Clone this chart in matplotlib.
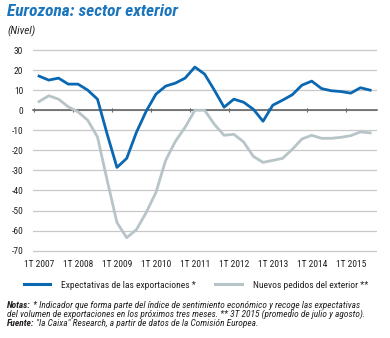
import numpy as np
import matplotlib.pyplot as plt
from matplotlib.lines import Line2D

# quarterly series, 1T 2007 .. 3T 2015
quarters = np.arange(35)
year_labels = ['1T 2007', '1T 2008', '1T 2009', '1T 2010', '1T 2011',
               '1T 2012', '1T 2013', '1T 2014', '1T 2015']
expectativas = [17, 15, 16, 13, 13, 10, 5.5, -12, -28.5, -24,
                -11, -0.5, 8, 12, 13.5, 16, 21.5, 18, 10, 1.5,
                5.5, 4, 0.5, -5.5, 2.5, 5, 7.7, 12.5, 14.5, 10.8,
                9.7, 9.3, 8.5, 11.2, 10]
pedidos = [4.3, 7.2, 5.5, 1.7, -0.8, -5, -13.3, -35, -56, -63.5,
           -59.5, -51, -41, -25, -15.5, -8.5, 0, 0, -7, -12.5,
           -12, -15.8, -23, -26, -25, -24, -19.5, -14.3, -12.5, -14,
           -14, -13.5, -12.7, -10.8, -11.3]
y_ticks = list(range(-70, 31, 10))

blue = '#0a67b1'
grey = '#b7c4c8'
title_blue = '#1b75bc'
txt = '#231f20'
font = ['Roboto Condensed', 'Liberation Sans Narrow', 'Roboto', 'DejaVu Sans']

W, H = 390, 338
fig = plt.figure(figsize=(W / 100, H / 100), dpi=100)
ax = fig.add_axes([33 / W, 1 - 252.7 / H, 344 / W, 204.7 / H])

ax.plot(quarters, pedidos, color=grey, lw=2.0, zorder=3)
ax.plot(quarters, expectativas, color=blue, lw=2.0, zorder=4)

ax.set_ylim(-71, 31)
ax.set_xlim(-0.62, 34.7)
ax.set_yticks(y_ticks, labels=[str(v) for v in y_ticks])
ax.grid(axis='y', color='#c8c8c8', lw=0.9)
ax.set_axisbelow(True)
ax.tick_params(axis='y', length=0, pad=7, labelsize=6.8, labelcolor=txt)
for lab in ax.get_yticklabels():
    lab.set_family(font)

for s in ['left', 'right', 'top']:
    ax.spines[s].set_visible(False)
ax.spines['bottom'].set_position(('data', 0))
ax.spines['bottom'].set_color('#5a5a5a')
ax.spines['bottom'].set_linewidth(1.1)
ax.set_xticks(np.arange(0, 35, 4) - 0.5, labels=[])
ax.tick_params(axis='x', length=3, width=0.8, direction='inout', color='#5a5a5a')

sec = ax.secondary_xaxis('bottom')
sec.set_xticks(np.arange(0, 35, 4), labels=year_labels)
sec.tick_params(length=0, pad=5, labelsize=6.8, labelcolor=txt)
sec.spines['bottom'].set_visible(False)
for lab in sec.get_xticklabels():
    lab.set_family(font)

handles = [Line2D([], [], color=blue, lw=2.2), Line2D([], [], color=grey, lw=2.2)]
fig.legend(handles, ['Expectativas de las exportaciones *', 'Nuevos pedidos del exterior **'],
           loc='center', bbox_to_anchor=(196 / W, 1 - 285 / H), ncol=2, frameon=False,
           prop={'family': font, 'size': 6.8}, handlelength=2.8, handletextpad=1.2,
           columnspacing=2.0, labelcolor=txt)

fig.text(7 / W, 1 - 12 / H, 'Eurozona: sector exterior', fontsize=12.5, family=font,
         weight='bold', style='italic', color=title_blue, va='center')
fig.text(7 / W, 1 - 31 / H, '(Nivel)', fontsize=8, family=font, style='italic',
         color=txt, va='center')

renderer = fig.canvas.get_renderer()

note_lines = [
    (305, [('Notas:', 'bold'),
           (' * Indicador que forma parte del índice de sentimiento económico y recoge las expectativas', 'normal')]),
    (314.5, [('del volumen de exportaciones en los próximos tres meses. ** 3T 2015 (promedio de julio y agosto).', 'normal')]),
    (324, [('Fuente:', 'bold'),
           (' "la Caixa" Research, a partir de datos de la Comisión Europea.', 'normal')]),
]

# one font size for all note lines, so the first line spans about 353 px
probe = [fig.text(0, 0, t, fontsize=7, family=font, style='italic', weight=w)
         for t, w in note_lines[0][1]]
first_w = sum(t.get_window_extent(renderer).width for t in probe)
for t in probe:
    t.remove()
note_size = min(7.5, 7 * 353 / first_w)

for y, parts in note_lines:
    x = 7
    for text, weight in parts:
        t = fig.text(x / W, 1 - y / H, text, fontsize=note_size, family=font,
                     style='italic', weight=weight, color=txt, va='center')
        x += t.get_window_extent(renderer).width

fig.savefig('out.png', dpi=100)
